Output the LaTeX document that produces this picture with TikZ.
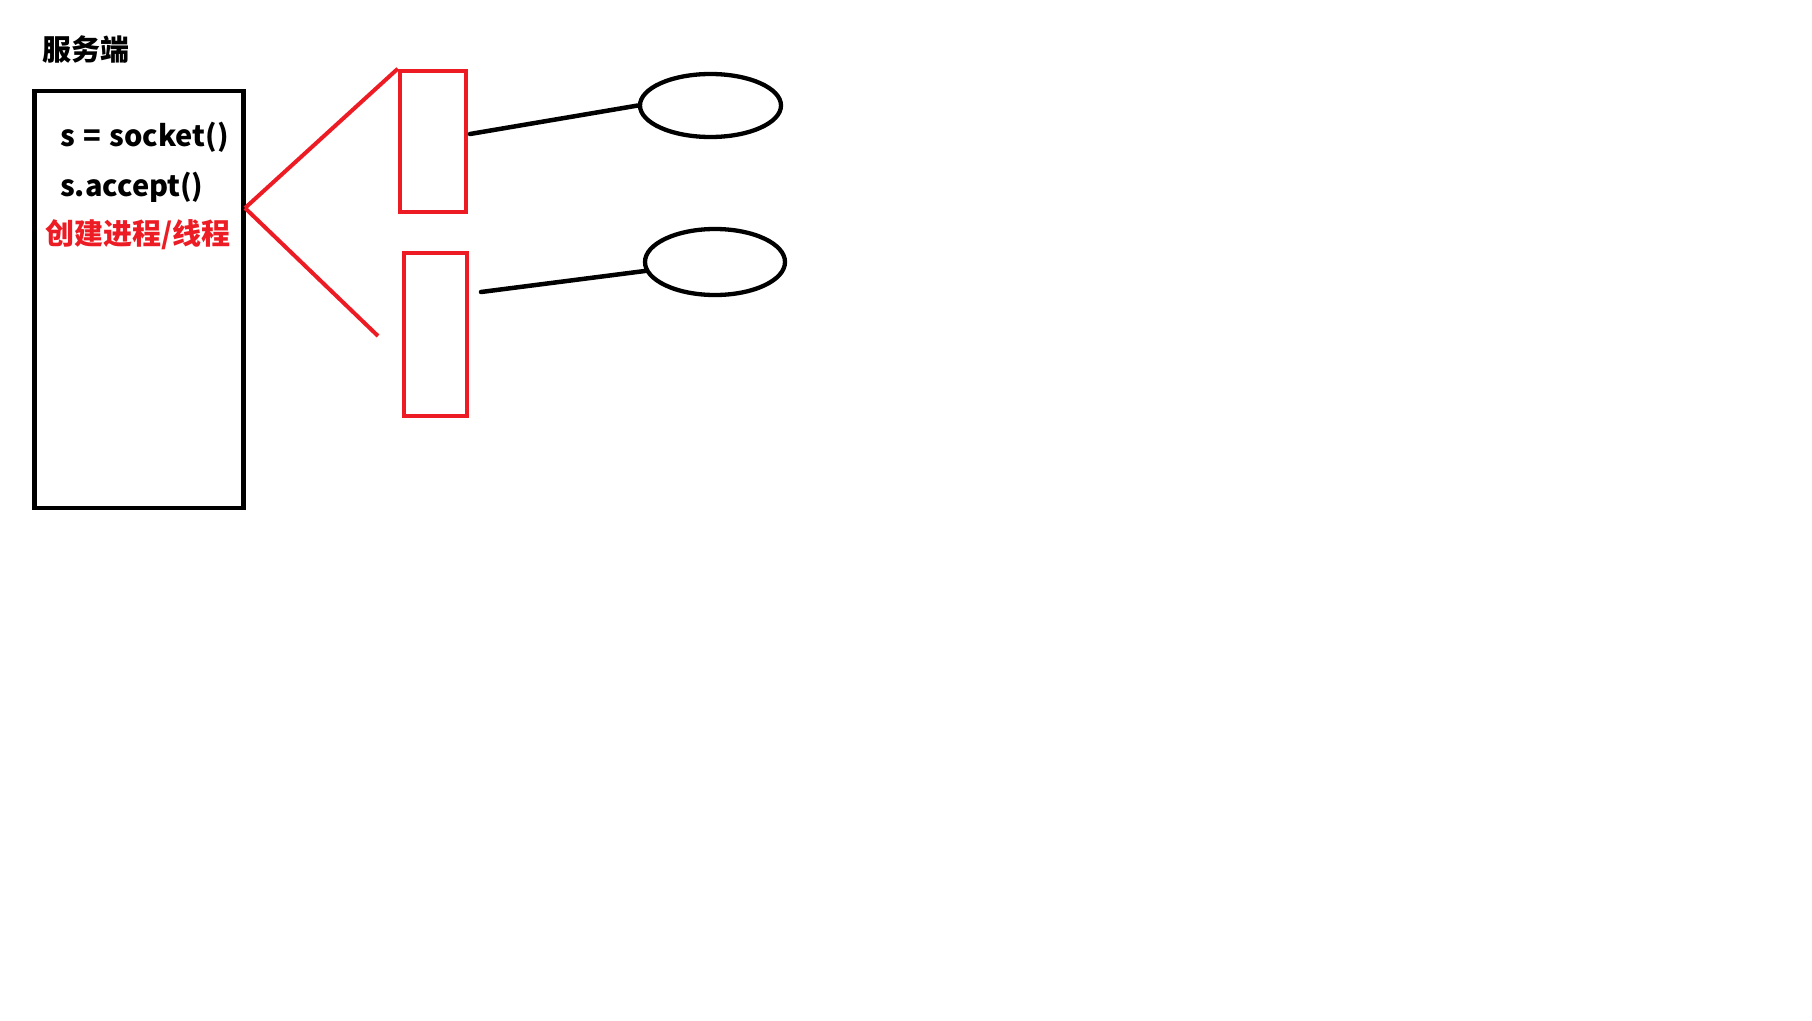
\documentclass[tikz,border=0pt]{standalone}
\usepackage{fontspec}
\newfontfamily\cjk{Noto Sans CJK SC}
\usetikzlibrary{shapes.geometric}
\definecolor{paintred}{RGB}{237,28,36}

\begin{document}
\begin{tikzpicture}[x=1pt, y=-1pt,
  serverbox/.style={draw, line width=4.7pt, inner sep=0pt},
  threadbox/.style={draw=paintred, line width=4.5pt, inner sep=0pt},
  client/.style={draw, ellipse, line width=4.3pt, inner sep=0pt},
  srvtext/.style={anchor=west, inner sep=0pt, font=\cjk\bfseries\fontsize{29}{29}\selectfont},
  fork/.style={paintred, line width=4pt},
  link/.style={line width=4.5pt, line cap=round}]
%\draw[help lines, color=gray!30] (0,0) grid[step=100] (1812,1020);
\useasboundingbox (0,0) rectangle (1812,1020);

\node[srvtext] (title) at (42,50) {服务端};
\node[serverbox, minimum width=209pt, minimum height=417pt] (server) at (139,299.5) {};
\node[srvtext] (sock) at (60,137) {s\hspace{0.06em} = \hspace{0.06em}socket()};
\node[srvtext] (accept) at (60,187) {s.accept()};
\node[srvtext, text=paintred] (spawn) at (45,235) {创建进程/线程};

\node[threadbox, minimum width=66pt, minimum height=141pt] (thread1) at (433,141.5) {};
\node[threadbox, minimum width=63pt, minimum height=163pt] (thread2) at (435.5,334.5) {};
\coordinate (fork) at (245,208);
\coordinate (forkend) at (378,336);
\draw[fork] (fork) -- (thread1.north west);
\draw[fork] (fork) -- (forkend);

\node[client, minimum width=141pt, minimum height=63pt] (client1) at (710.5,105.5) {};
\node[client, minimum width=140pt, minimum height=66pt] (client2) at (715,262) {};
\coordinate (conn1) at (470,134);
\coordinate (conn2) at (481,292);
\draw[link] (conn1) -- (client1.west);
\draw[link] (conn2) -- (client2);

\end{tikzpicture}
\end{document}
